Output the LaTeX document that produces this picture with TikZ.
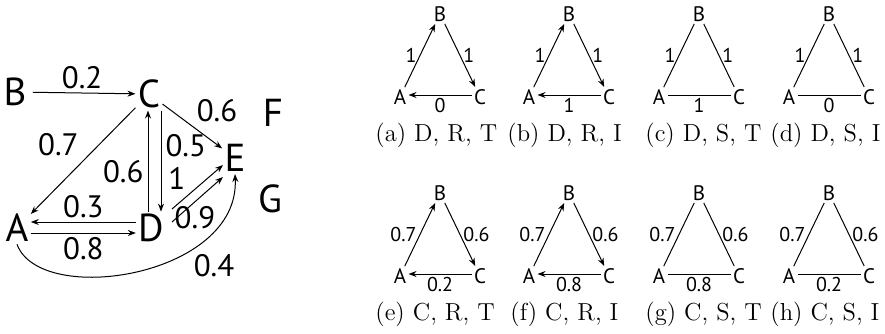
\documentclass[tikz,border=0pt]{standalone}
\usepackage{fontspec}
\newfontfamily\graphfont{PT Sans}
\usetikzlibrary{arrows.meta}

\begin{document}
\begin{tikzpicture}[
  x=0.5pt, y=-0.5pt,
  big/.style={font=\graphfont\fontsize{19.5}{22}\selectfont, inner sep=1pt},
  wt/.style={font=\graphfont\fontsize{15.5}{18}\selectfont, inner sep=2pt},
  tri/.style={font=\graphfont\fontsize{10.5}{12}\selectfont, inner sep=1pt},
  twt/.style={font=\graphfont\fontsize{10}{11}\selectfont, inner sep=1.5pt},
  captext/.style={font=\fontsize{12.3}{15}\selectfont, anchor=west, inner sep=0pt},
  arr/.style={-{Stealth[length=4pt, width=3pt]}, line width=0.5pt},
  undir/.style={line width=0.5pt},
]
\useasboundingbox (0,0) rectangle (885,333);

% weighted graph
\node[big] (A) at (17,228) {A};
\node[big] (B) at (15,92) {B};
\node[big] (C) at (149,94) {C};
\node[big] (D) at (151,228) {D};
\node[big] (E) at (235,158) {E};
\node[big] (F) at (273,113) {F};
\node[big] (G) at (270,199) {G};

\draw[arr, shorten <=2pt] (B) -- (C) node[wt, midway, above] {0.2};
\draw[arr] (C) -- (E) node[wt, midway, above right] {0.6};
\draw[arr] (C) -- (A) node[wt, midway, above left] {0.7};
\draw[arr] ([xshift=-1.5pt]D.north) -- ([xshift=-1.5pt]D.north |- C.south)
  node[wt, pos=0.4, left] {0.6};
\draw[arr] ([xshift=6pt]C.south) -- ([xshift=6pt]C.south |- D.north)
  node[wt, pos=0.35, right] {0.5};
\draw[arr] ([shift={(21,-19)}]D.center) -- ([shift={(-12,7)}]E.center)
  node[wt, pos=0.35, above left] {1};
\draw[arr] ([shift={(21,-6)}]D.center) -- ([shift={(-12,19)}]E.center)
  node[wt, pos=0.45, below] {0.9};
\draw[arr] ([yshift=3pt]D.west) -- ([yshift=3pt]A.east)
  node[wt, midway, above] {0.3};
\draw[arr] ([yshift=-2.5pt]A.east) -- ([yshift=-2.5pt]D.west)
  node[wt, midway, below] {0.8};
\draw[arr] (A.south) .. controls +(23,63) and +(5,103) .. (E.south)
  node[wt, pos=0.68, below right] {0.4};

% triangle panels
\foreach \bx/\by/\lw/\rw/\bw/\es/\lab/\cx [count=\k] in {
  440/14/1/1/0/arr/{(a) D, R, T}/375,
  569/14/1/1/1/arr/{(b) D, R, I}/507,
  699/14/1/1/1/undir/{(c) D, S, T}/645,
  829/14/1/1/0/undir/{(d) D, S, I}/770,
  440/193/0.7/0.6/0.2/arr/{(e) C, R, T}/375,
  569/193/0.7/0.6/0.8/arr/{(f) C, R, I}/510,
  699/193/0.7/0.6/0.8/undir/{(g) C, S, T}/645,
  829/193/0.7/0.6/0.2/undir/{(h) C, S, I}/770}
{
  \node[tri] (B\k) at (\bx,\by) {B};
  \node[tri] (A\k) at (\bx-40,\by+83) {A};
  \node[tri] (C\k) at (\bx+40,\by+83) {C};
  \draw[\es] (A\k) -- (B\k) node[twt, midway, left] {\lw};
  \draw[\es] (B\k) -- (C\k) node[twt, midway, right] {\rw};
  \draw[\es] ([yshift=1pt]C\k.west) -- ([yshift=1pt]A\k.east)
    node[twt, midway, below] {\bw};
  \node[captext] (cap\k) at (\cx,\by+121) {\lab};
}
\end{tikzpicture}
\end{document}
